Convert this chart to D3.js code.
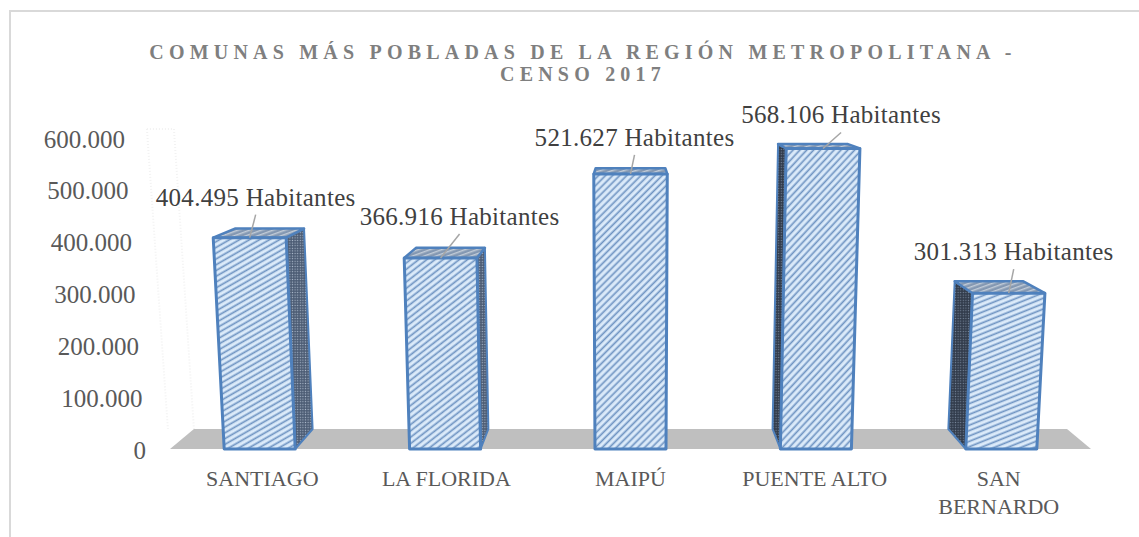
<!DOCTYPE html>
<html>
<head>
<meta charset="utf-8">
<script src="https://cdn.jsdelivr.net/npm/d3@7"></script>
<style>
  body { margin: 0; background: #fff; }
  text { font-family: "Liberation Serif", serif; }
</style>
</head>
<body>
<svg id="chart" width="1139" height="537"></svg>
<script>
var categories = ["SANTIAGO", "LA FLORIDA", "MAIPÚ", "PUENTE ALTO", "SAN BERNARDO"];
var habitantes = [404495, 366916, 521627, 568106, 301313];
var yTicks = [0, 100000, 200000, 300000, 400000, 500000, 600000];
var titleLines = ["COMUNAS MÁS POBLADAS DE LA REGIÓN METROPOLITANA -", "CENSO 2017"];

// label placement relative to the top of each bar, and stripe slant per bar
var labelDx = [6, 19, 4, 18, 5];
var labelDy = [-32, -33, -28, -25, -33];
var stripeAngle = [30, 38, 45, 47, 22];

var svg = d3.select("#chart");
var defs = svg.append("defs");

var y0 = 449, cx = 630, cy = 64;
var tilt = 1.28e-4, depth = 0.052;

var x = d3.scaleBand().domain(categories).range([167, 1094]).paddingInner(0.617).paddingOuter(0.3085);
var yAxisScale = d3.scaleLinear().domain([0, 600000]).range([450, 139]);
// bars grow a little faster than the axis because of the 3d view
var yBar = d3.scalePow().exponent(1.036).domain([0, 600000]).range([y0, 131]);

var fmt = d3.formatLocale({decimal: ",", thousands: ".", grouping: [3], currency: ["$", ""]}).format(",d");

// front plane point, bar height h above floor
var front = function(px, h) {
  return [cx + (px - cx) * (1 + tilt * h), y0 - h];
};
// same point pushed to the back of the 3d box
var back = function(p) {
  return [cx + (p[0] - cx) * (1 - depth), cy + (p[1] - cy) * (1 - depth)];
};
var line = d3.line();
var poly = function(pts) { return line(pts) + "Z"; };

// patterns
categories.forEach(function(c, i) {
  var p = defs.append("pattern").attr("id", "stripe" + i)
    .attr("patternUnits", "userSpaceOnUse").attr("width", 10).attr("height", 5)
    .attr("patternTransform", "rotate(" + (-stripeAngle[i]) + ")");
  p.append("rect").attr("width", 10).attr("height", 5).attr("fill", "#dcebfa");
  p.append("rect").attr("y", 1.5).attr("width", 10).attr("height", 1.7).attr("fill", "#6f94c2");
});
var addDots = function(id, bg, dot) {
  var dots = defs.append("pattern").attr("id", id)
    .attr("patternUnits", "userSpaceOnUse").attr("width", 2.6).attr("height", 2.6);
  dots.append("rect").attr("width", 2.6).attr("height", 2.6).attr("fill", bg);
  dots.append("circle").attr("cx", 1.3).attr("cy", 1.3).attr("r", 0.65).attr("fill", dot);
};
addDots("dotsRight", "#4d5d75", "#a9b7c9");
addDots("dotsLeft", "#323c4c", "#76859a");
var topHatch = defs.append("pattern").attr("id", "topHatch")
  .attr("patternUnits", "userSpaceOnUse").attr("width", 8).attr("height", 4)
  .attr("patternTransform", "rotate(-20)");
topHatch.append("rect").attr("width", 8).attr("height", 4).attr("fill", "#8498b2");
topHatch.append("rect").attr("y", 1).attr("width", 8).attr("height", 1.4).attr("fill", "#c2ccd8");

// chart frame
svg.append("path")
  .attr("d", "M10,537V11H1139")
  .attr("fill", "none").attr("stroke", "#d9d9d9").attr("stroke-width", 2);

// title
svg.append("g").selectAll("text").data(titleLines).enter().append("text")
  .attr("x", 583)
  .attr("y", function(d, i) { return 59 + i * 22; })
  .attr("text-anchor", "middle")
  .attr("font-size", 20)
  .attr("font-weight", "bold")
  .attr("letter-spacing", 5.2)
  .attr("fill", "#7f7f7f")
  .text(function(d) { return d; });

// floor
var floorL = x.range()[0] + 3, floorR = x.range()[1] - 3;
svg.append("path")
  .attr("d", poly([[floorL, y0], [floorR, y0], back([floorR, y0]), back([floorL, y0])]))
  .attr("fill", "#bfbfbf");

// faint back wall
var wallB = back([floorL, y0]);
svg.append("path")
  .attr("d", line([[wallB[0] - 20, 129], wallB]) + line([[wallB[0] - 47, 129], [wallB[0] - 26, wallB[1]]]) + line([[wallB[0] - 47, 129], [wallB[0] - 20, 129]]))
  .attr("fill", "none").attr("stroke", "#f2f2f2").attr("stroke-width", 2).attr("stroke-dasharray", "1 2");

// y axis
var yAxis = svg.append("g").attr("transform", "translate(146,0)")
  .call(d3.axisLeft(yAxisScale).tickValues(yTicks).tickFormat(fmt).tickSize(0).tickPadding(0));
yAxis.select(".domain").remove();
yAxis.selectAll("text")
  .attr("font-size", 25)
  .attr("fill", "#595959")
  .attr("x", function(d) { return -3.5 * d / 100000; });

// bars
var bars = svg.append("g").selectAll("g").data(categories).enter().append("g");
var barColor = "#4f81bd";
bars.each(function(c, i) {
  var g = d3.select(this);
  var h = y0 - yBar(habitantes[i]);
  var l = x(c), r = x(c) + x.bandwidth();
  var bl = front(l, 0), br = front(r, 0), tl = front(l, h), tr = front(r, h);
  if (r < cx) {
    g.append("path").attr("d", poly([br, back(br), back(tr), tr]))
      .attr("fill", "url(#dotsRight)").attr("stroke", barColor).attr("stroke-width", 2).attr("stroke-linejoin", "round");
  }
  if (l > cx) {
    g.append("path").attr("d", poly([bl, back(bl), back(tl), tl]))
      .attr("fill", "url(#dotsLeft)").attr("stroke", barColor).attr("stroke-width", 2).attr("stroke-linejoin", "round");
  }
  g.append("path").attr("d", poly([tl, tr, back(tr), back(tl)]))
    .attr("fill", "url(#topHatch)").attr("stroke", barColor).attr("stroke-width", 2.5).attr("stroke-linejoin", "round");
  g.append("path").attr("d", poly([bl, br, tr, tl]))
    .attr("fill", "url(#stripe" + i + ")").attr("stroke", barColor).attr("stroke-width", 3).attr("stroke-linejoin", "round");
});

// data labels with leader lines
var labels = svg.append("g").selectAll("g").data(categories).enter().append("g");
labels.append("path")
  .attr("d", function(c, i) {
    var h = y0 - yBar(habitantes[i]);
    var t = front(x(c) + x.bandwidth() / 2, h);
    var lx = t[0] + labelDx[i], ly = t[1] + labelDy[i];
    return line([[lx, ly + 9], t]);
  })
  .attr("fill", "none").attr("stroke", "#a6a6a6").attr("stroke-width", 1.5);
labels.append("text")
  .attr("x", function(c, i) { return front(x(c) + x.bandwidth() / 2, y0 - yBar(habitantes[i]))[0] + labelDx[i]; })
  .attr("y", function(c, i) { return yBar(habitantes[i]) + labelDy[i]; })
  .attr("text-anchor", "middle")
  .attr("font-size", 25)
  .attr("letter-spacing", 0.3)
  .attr("fill", "#404040")
  .text(function(c, i) { return fmt(habitantes[i]) + " Habitantes"; });

// category axis
var xAxis = svg.append("g").attr("transform", "translate(0," + y0 + ")")
  .call(d3.axisBottom(x).tickSize(0).tickPadding(0));
xAxis.select(".domain").remove();
xAxis.selectAll("text").each(function(c) {
  var t = d3.select(this).text(null)
    .attr("y", 0).attr("dy", null)
    .attr("font-size", 22).attr("fill", "#595959");
  var shift = (cx - (x(c) + x.bandwidth() / 2)) * 0.007;
  var words = c.length > 11 ? c.split(" ") : [c];
  words.forEach(function(w, i) {
    t.append("tspan").attr("x", shift).attr("y", 37 + i * 28).text(w);
  });
});
</script>
</body>
</html>
